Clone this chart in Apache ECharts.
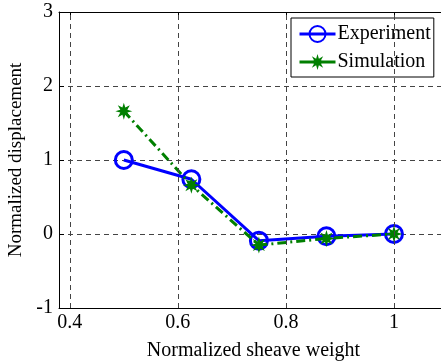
<!DOCTYPE html>
<html>
<head>
<meta charset="utf-8">
<script src="https://cdn.jsdelivr.net/npm/echarts@6/dist/echarts.min.js"></script>
<style>
  html, body { margin: 0; padding: 0; background: #fff; }
  #main { width: 441px; height: 363px; }
</style>
</head>
<body>
<div id="main"></div>
<script>
// data
const sheaveWeight = [0.5, 0.625, 0.75, 0.875, 1];
const experiment = [1.0, 0.74, -0.09, -0.03, 0];
const simulation = [1.66, 0.66, -0.15, -0.06, 0];
const xTicks = [0.4, 0.6, 0.8, 1];

const FONT = 'Liberation Serif';

// asterisk-like marker (8 spikes)
function asteriskPath() {
  let d = '';
  const n = 8;
  for (let i = 0; i < n * 2; i++) {
    const r = i % 2 === 0 ? 10 : 4.5;
    const a = (Math.PI * i) / n - Math.PI / 2;
    const x = (r * Math.cos(a)).toFixed(2);
    const y = (r * Math.sin(a)).toFixed(2);
    d += (i === 0 ? 'M' : 'L') + x + ' ' + y + ' ';
  }
  return 'path://' + d + 'Z';
}

const chart = echarts.init(document.getElementById('main'), null, { renderer: 'canvas' });

const gridLine = { show: true, lineStyle: { color: '#444', type: [5, 4], width: 1 } };

const option = {
  backgroundColor: '#fff',
  animation: false,
  textStyle: { fontFamily: FONT },
  grid: {
    left: 59, top: 12, right: -7, bottom: 55,
    outerBoundsMode: 'none',
    containLabel: false,
    show: false
  },
  legend: {
    orient: 'vertical',
    left: 291, top: 18,
    padding: [6, 3, 5, 7],
    itemGap: 8,
    itemWidth: 36, itemHeight: 20,
    backgroundColor: '#fff',
    borderColor: '#000', borderWidth: 1, borderRadius: 0,
    lineStyle: { width: 3, type: 'solid' },
    textStyle: { fontFamily: FONT, fontSize: 20, color: '#000', padding: [0, 0, 0, -3] },
    data: ['Experiment', 'Simulation']
  },
  xAxis: [{
    type: 'value',
    min: 0.38, max: 1.1,
    name: 'Normalized sheave weight',
    nameLocation: 'middle',
    nameGap: 33,
    nameTextStyle: { fontFamily: FONT, fontSize: 20, color: '#000' },
    axisLine: { show: true, onZero: false, lineStyle: { color: '#000', width: 1 } },
    axisTick: { show: true, inside: true, length: 5, customValues: xTicks, lineStyle: { color: '#000' } },
    axisLabel: { customValues: xTicks, fontFamily: FONT, fontSize: 20, color: '#000', margin: 5 },
    splitLine: { show: false }
  }, {
    type: 'value',
    position: 'top',
    min: 0.38, max: 1.1,
    axisLine: { show: true, onZero: false, lineStyle: { color: '#000', width: 1 } },
    axisTick: { show: true, inside: true, length: 5, customValues: xTicks, lineStyle: { color: '#000' } },
    axisLabel: { show: false },
    splitLine: { show: false }
  }],
  yAxis: {
    type: 'value',
    min: -1, max: 3, interval: 1,
    name: 'Normalized displacement',
    nameLocation: 'middle',
    nameGap: 25,
    nameTextStyle: { fontFamily: FONT, fontSize: 19, color: '#000' },
    axisLine: { show: true, onZero: false, lineStyle: { color: '#000', width: 1 } },
    axisTick: { show: true, inside: true, length: 5, lineStyle: { color: '#000' } },
    axisLabel: { fontFamily: FONT, fontSize: 20, color: '#000', margin: 6 },
    splitLine: gridLine
  },
  series: [
    {
      // vertical dashed grid lines at the x ticks
      type: 'line',
      data: [],
      silent: true,
      markLine: {
        silent: true,
        symbol: 'none',
        label: { show: false },
        lineStyle: { color: '#444', type: [5, 4], width: 1 },
        data: xTicks.map(v => ({ xAxis: v }))
      }
    },
    {
      name: 'Experiment',
      type: 'line',
      data: sheaveWeight.map((x, i) => [x, experiment[i]]),
      symbol: 'circle',
      symbolSize: 17,
      lineStyle: { color: '#0000ff', width: 3 },
      itemStyle: { color: 'rgba(0,0,0,0)', borderColor: '#0000ff', borderWidth: 3 },
      z: 3
    },
    {
      name: 'Simulation',
      type: 'line',
      data: sheaveWeight.map((x, i) => [x, simulation[i]]),
      symbol: asteriskPath(),
      symbolSize: 17,
      lineStyle: { color: '#007f00', width: 3, type: [9, 4, 2, 4] },
      itemStyle: { color: '#007f00', borderWidth: 0 },
      z: 4
    }
  ]
};

chart.setOption(option);
</script>
</body>
</html>
